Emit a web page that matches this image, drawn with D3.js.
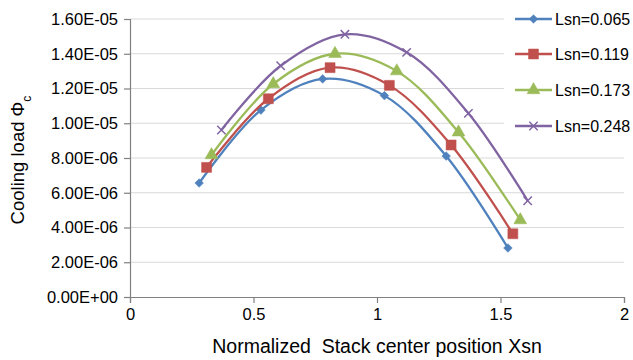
<!DOCTYPE html>
<html>
<head>
<meta charset="utf-8">
<script src="https://cdn.jsdelivr.net/npm/d3@7"></script>
<style>
  body { margin: 0; background: #fff; }
  svg { display: block; font-family: "Liberation Sans", Arial, sans-serif; }
</style>
</head>
<body>
<svg id="chart" width="633" height="360"></svg>
<script>
// data
const seriesNames = ['Lsn=0.065', 'Lsn=0.119', 'Lsn=0.173', 'Lsn=0.248'];
const xs065 = [0.28, 0.53, 0.78, 1.03, 1.28, 1.53];
const ys065 = [6.56e-6, 1.076e-5, 1.255e-5, 1.159e-5, 8.11e-6, 2.82e-6];
const xs119 = [0.31, 0.56, 0.81, 1.05, 1.30, 1.55];
const ys119 = [7.46e-6, 1.141e-5, 1.32e-5, 1.218e-5, 8.75e-6, 3.64e-6];
const xs173 = [0.33, 0.58, 0.83, 1.08, 1.33, 1.58];
const ys173 = [8.17e-6, 1.226e-5, 1.40e-5, 1.30e-5, 9.48e-6, 4.43e-6];
const xs248 = [0.37, 0.61, 0.87, 1.12, 1.37, 1.61];
const ys248 = [9.61e-6, 1.331e-5, 1.512e-5, 1.408e-5, 1.057e-5, 5.54e-6];
const xTicks = [0, 0.5, 1, 1.5, 2];
const yTicks = [0, 2e-6, 4e-6, 6e-6, 8e-6, 1e-5, 1.2e-5, 1.4e-5, 1.6e-5];

const colors = ['#4F81BD', '#C0504D', '#9BBB59', '#8064A2'];

const svg = d3.select('#chart');
const plotLeft = 130, plotRight = 624, plotTop = 19, plotBottom = 297;

const x = d3.scaleLinear().domain([0, 2]).range([plotLeft, plotRight]);
const y = d3.scaleLinear().domain([0, 1.6e-5]).range([plotBottom, plotTop]);

// Excel style scientific labels, e.g. 1.60E-05
function sci(v) {
  const s = v.toExponential(2).toUpperCase();
  const [m, e] = s.split('E');
  const sign = e[0] === '-' ? '-' : '+';
  const digits = e.replace(/[+-]/, '').padStart(2, '0');
  return m + 'E' + sign + digits;
}

// gridlines
svg.append('g')
  .selectAll('line')
  .data(yTicks.slice(1))
  .enter()
  .append('line')
  .attr('x1', plotLeft)
  .attr('x2', plotRight)
  .attr('y1', d => y(d))
  .attr('y2', d => y(d))
  .attr('stroke', '#D9D9D9')
  .attr('stroke-width', 1);

// axes
const yAxis = svg.append('g')
  .attr('transform', `translate(${plotLeft},0)`)
  .call(d3.axisLeft(y).tickValues(yTicks).tickFormat(sci).tickSize(6).tickPadding(6));
const xAxis = svg.append('g')
  .attr('transform', `translate(0,${plotBottom})`)
  .call(d3.axisBottom(x).tickValues(xTicks).tickFormat(d3.format('')).tickSize(6).tickPadding(5));

[yAxis, xAxis].forEach(a => {
  a.select('.domain').attr('stroke', '#808080').attr('stroke-width', 1.2);
  a.selectAll('.tick line').attr('stroke', '#808080').attr('stroke-width', 1.2);
  a.selectAll('.tick text').attr('fill', '#000').style('font-size', '16.5px').style('font-family', '"Liberation Sans", Arial, sans-serif');
});

// symbols
const diamond = {
  draw(ctx, size) {
    const r = Math.sqrt(size) / 2 * 1.1;
    ctx.moveTo(0, -r); ctx.lineTo(r, 0); ctx.lineTo(0, r); ctx.lineTo(-r, 0); ctx.closePath();
  }
};
const cross = {
  draw(ctx, size) {
    const r = Math.sqrt(size) / 2;
    ctx.moveTo(-r, -r); ctx.lineTo(r, r);
    ctx.moveTo(-r, r); ctx.lineTo(r, -r);
  }
};
const markers = [
  { type: diamond, size: 62, fill: true },
  { type: d3.symbolSquare, size: 100, fill: true },
  { type: d3.symbolTriangle, size: 72, fill: true },
  { type: cross, size: 70, fill: false }
];

const series = [
  xs065.map((v, i) => [v, ys065[i]]),
  xs119.map((v, i) => [v, ys119[i]]),
  xs173.map((v, i) => [v, ys173[i]]),
  xs248.map((v, i) => [v, ys248[i]])
];

const line = d3.line()
  .x(d => x(d[0]))
  .y(d => y(d[1]))
  .curve(d3.curveCatmullRom.alpha(0.5));

function drawMarker(g, m, color, px, py) {
  g.append('path')
    .attr('d', d3.symbol().type(m.type).size(m.size)())
    .attr('transform', `translate(${px},${py})`)
    .attr('fill', m.fill ? color : 'none')
    .attr('stroke', color)
    .attr('stroke-width', m.fill ? 0.5 : 1.5);
}

series.forEach((pts, k) => {
  const g = svg.append('g');
  g.append('path')
    .datum(pts)
    .attr('d', line)
    .attr('fill', 'none')
    .attr('stroke', colors[k])
    .attr('stroke-width', 2.3);
  pts.forEach(p => drawMarker(g, markers[k], colors[k], x(p[0]), y(p[1])));
});

// legend
const legend = svg.append('g');
legend.append('rect')
  .attr('x', 504).attr('y', 0).attr('width', 129).attr('height', 142)
  .attr('fill', '#fff');
const legendY = [19, 54, 90, 126];
seriesNames.forEach((name, k) => {
  const ly = legendY[k];
  legend.append('line')
    .attr('x1', 515).attr('x2', 552).attr('y1', ly).attr('y2', ly)
    .attr('stroke', colors[k]).attr('stroke-width', 2.3);
  drawMarker(legend, markers[k], colors[k], 533.5, ly);
  legend.append('text')
    .attr('x', 555).attr('y', ly + 6)
    .style('font-size', '16px')
    .text(name);
});

// axis titles
svg.append('text')
  .attr('x', 377).attr('y', 353)
  .attr('text-anchor', 'middle')
  .style('font-size', '19.5px')
  .style('white-space', 'pre')
  .attr('xml:space', 'preserve')
  .text('Normalized  Stack center position Xsn');

const yt = svg.append('text')
  .attr('transform', 'translate(24,160) rotate(-90)')
  .attr('text-anchor', 'middle')
  .style('font-size', '18.5px');
yt.append('tspan').text('Cooling load Φ');
yt.append('tspan').attr('baseline-shift', 'sub').style('font-size', '12px').text('c');
</script>
</body>
</html>
